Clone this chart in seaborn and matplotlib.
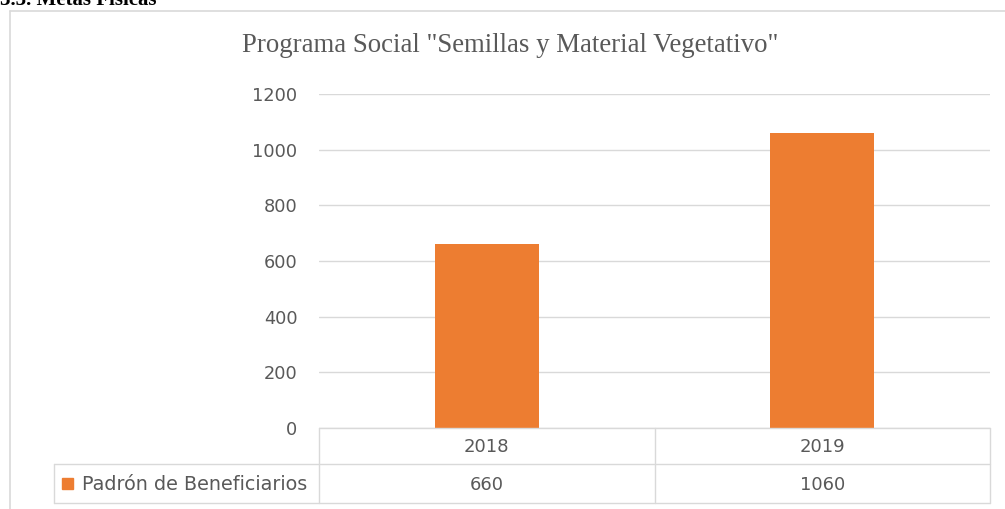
import matplotlib
matplotlib.use("Agg")
import matplotlib.pyplot as plt
import seaborn as sns
import pandas as pd
from matplotlib.lines import Line2D
from matplotlib.patches import Rectangle

categories = ["2018", "2019"]
values = [660, 1060]
series_name = "Padrón de Beneficiarios"
yticks = [0, 200, 400, 600, 800, 1000, 1200]
title = 'Programa Social "Semillas y Material Vegetativo"'
heading = "3.3. Metas Físicas"

W, H = 1005, 509
sns.set_theme(style="white")
plt.rcParams['font.family'] = ['DejaVu Sans']

fig = plt.figure(figsize=(W / 100, H / 100), dpi=100)

def fx(x):
    return x / W

def fy(y):
    return 1 - y / H

TXT = "#595959"
GRID = "#d9d9d9"
BAR = "#ED7D31"

x0, x1 = 319, 990
ytop, ybot = 94, 428
ax = fig.add_axes([fx(x0), fy(ybot), (x1 - x0) / W, (ybot - ytop) / H])
df = pd.DataFrame({"cat": categories, "val": values})
sns.barplot(data=df, x="cat", y="val", color=BAR, width=0.31, ax=ax,
            saturation=1, edgecolor="none")
ax.set_ylim(0, 1200)
ax.set_yticks(yticks)
ax.set_yticklabels([str(t) for t in yticks], color=TXT, fontsize=12.8)
ax.tick_params(axis="y", length=0, pad=15.5)
ax.set_xticks([])
ax.set_xlabel("")
ax.set_ylabel("")
ax.grid(axis="y", color=GRID, linewidth=1)
ax.set_axisbelow(True)
for s in ax.spines.values():
    s.set_visible(False)
ax.set_xlim(-0.5, len(categories) - 0.5)

# chart border
fig.add_artist(Line2D([fx(10), fx(10)], [fy(11), fy(H + 5)], color=GRID, lw=1.2))
fig.add_artist(Line2D([fx(10), fx(W + 5)], [fy(11), fy(11)], color=GRID, lw=1.2))

# title and heading
fig.text(fx(510), fy(46), title, ha="center", va="center", color=TXT,
         fontsize=19.3, family=["Liberation Serif"])
fig.text(fx(0), fy(5), heading, ha="left", va="baseline", color="black",
         fontsize=15, fontweight="bold", family=["Liberation Serif"])

# data table
r0, r1, r2 = 428, 464, 503
lx = 54
colw = (x1 - x0) / len(categories)
def hline(y, xa, xb):
    fig.add_artist(Line2D([fx(xa), fx(xb)], [fy(y), fy(y)], color=GRID, lw=1))
def vline(x, ya, yb):
    fig.add_artist(Line2D([fx(x), fx(x)], [fy(ya), fy(yb)], color=GRID, lw=1))
hline(r0, x0, x1)
hline(r1, lx, x1)
hline(r2, lx, x1)
vline(lx, r1, r2)
for i in range(len(categories) + 1):
    vline(x0 + i * colw, r0, r2)
for i, (c, v) in enumerate(zip(categories, values)):
    cx = x0 + (i + 0.5) * colw
    fig.text(fx(cx), fy((r0 + r1) / 2 + 1), c, ha="center", va="center",
             color=TXT, fontsize=13)
    fig.text(fx(cx), fy((r1 + r2) / 2 + 1), str(v), ha="center", va="center",
             color=TXT, fontsize=13)
fig.add_artist(Rectangle((fx(62), fy(489)), 11 / W, 11 / H, color=BAR,
                         transform=fig.transFigure))
fig.text(fx(82), fy((r1 + r2) / 2 + 1), series_name, ha="left", va="center",
         color=TXT, fontsize=13.8)

fig.savefig("out.png", dpi=100, facecolor="white")
